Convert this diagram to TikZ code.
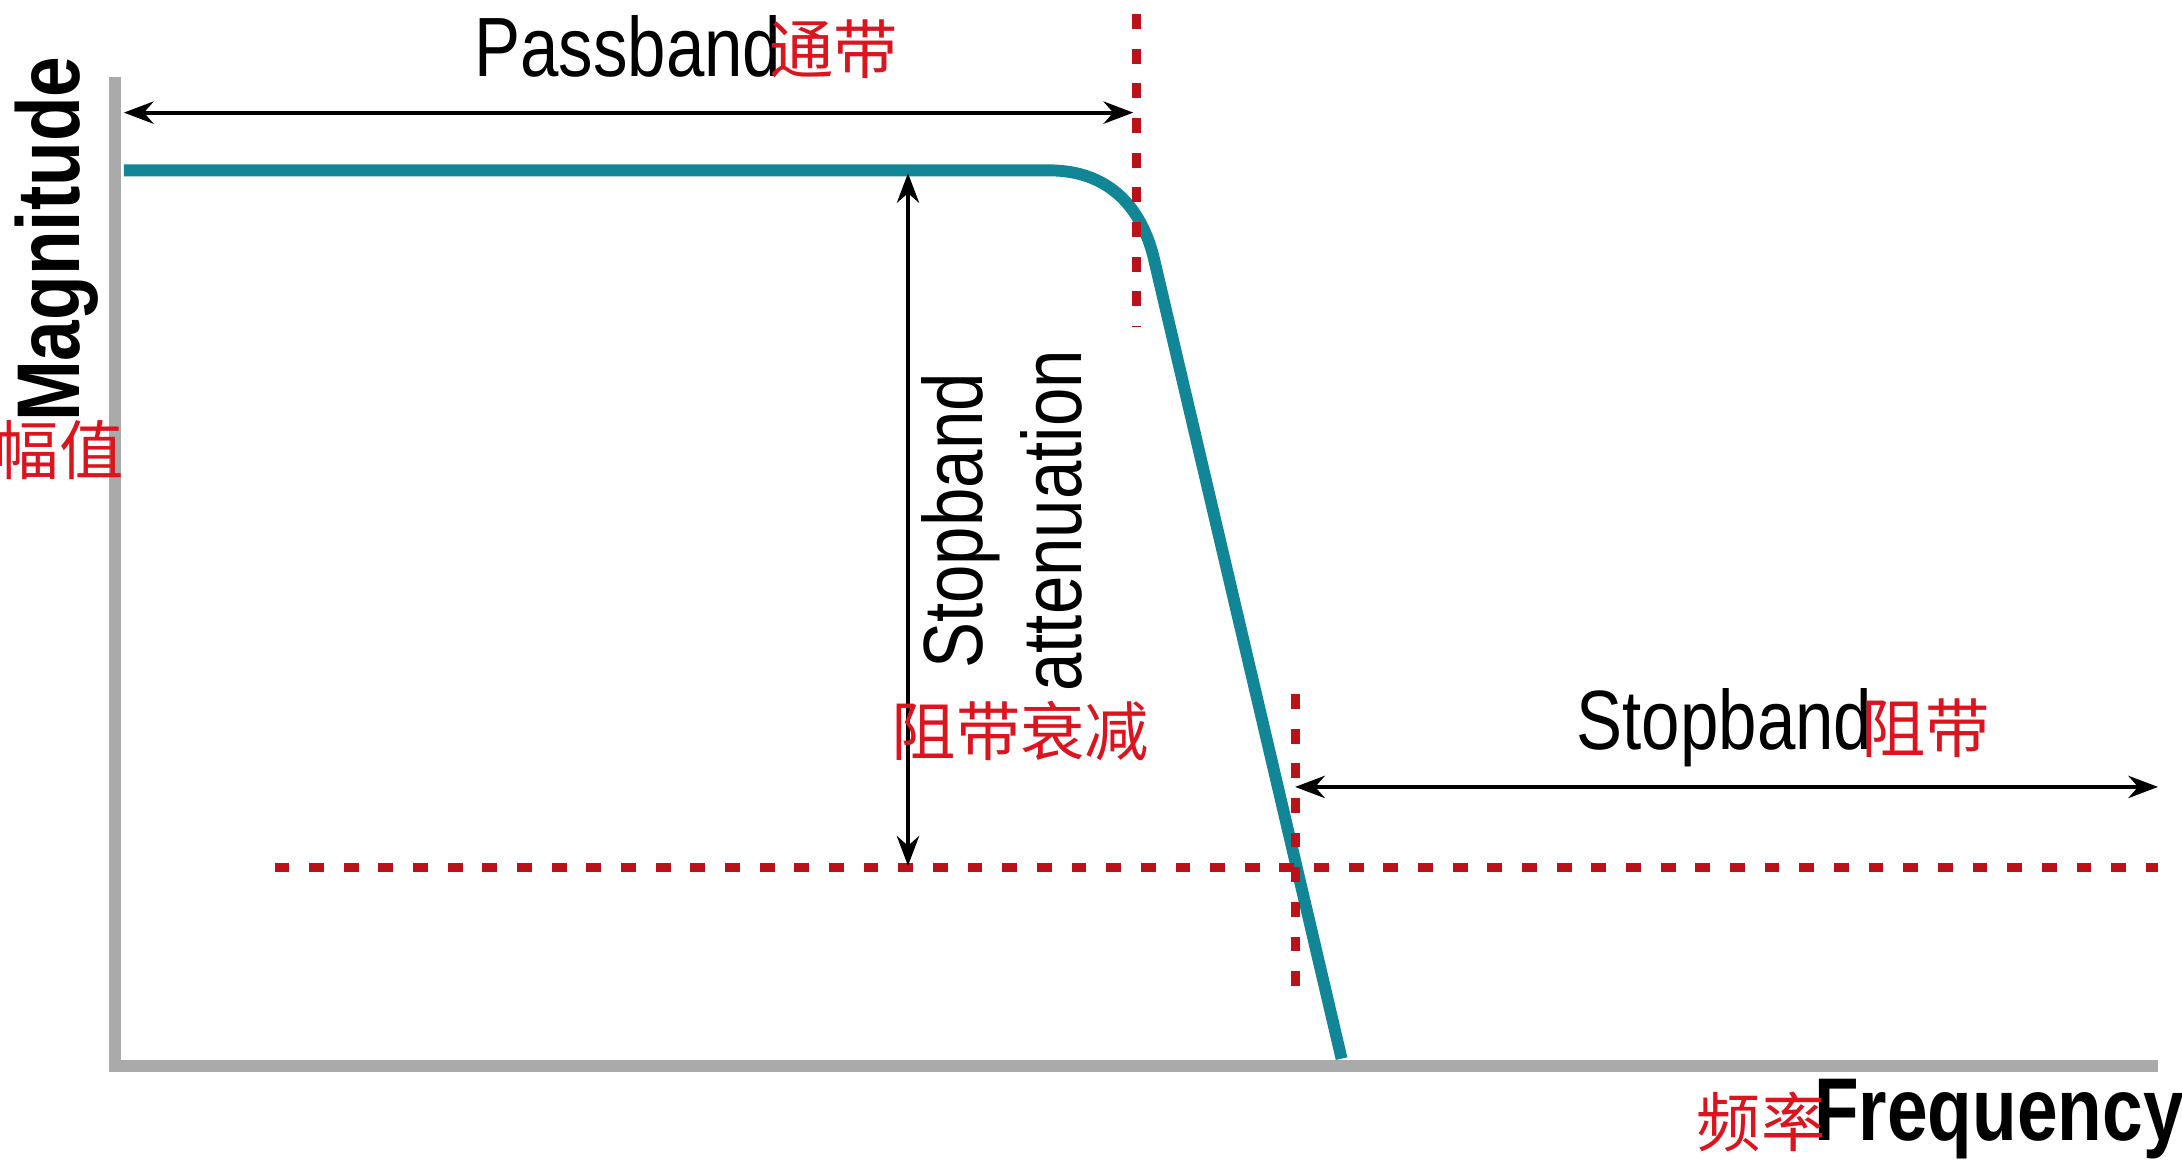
\documentclass[tikz,border=0pt]{standalone}
\usepackage{fontspec}
\setmainfont{Liberation Sans}[FakeStretch=0.82]
\newfontfamily\cjk{Noto Sans CJK SC}
\usetikzlibrary{arrows.meta}
\definecolor{teal1}{RGB}{16,134,150}
\definecolor{red1}{RGB}{220,20,30}
\definecolor{axisgray}{RGB}{170,170,170}
\tikzset{
  dim/.style={thick,{Stealth[length=6pt]}-{Stealth[length=6pt]}},
  cutoff/.style={red1!85!black,line width=1.8pt,dash pattern=on 3pt off 4pt},
  lbl/.style={font=\fontsize{17}{20}\selectfont},
  zh/.style={text=red1,font=\cjk\fontsize{13}{15}\selectfont},
}
\begin{document}
\begin{tikzpicture}[x=0.01cm,y=-0.01cm]
  \useasboundingbox (0,0) rectangle (1550,827);
  % axes
  \draw[axisgray,line width=2.4pt] (82,55) -- (82,757) -- (1533,757);
  % response
  \draw[teal1,line width=2.4pt] (88,121) -- (745,121)
        .. controls (790,121) and (812,150) .. (820,185) -- (953,752);
  % markers
  \draw[cutoff] (807,10) -- (807,232);
  \draw[cutoff] (920,493) -- (920,708);
  \draw[cutoff] (195,616) -- (1533,616);
  % dimensions
  \coordinate (pbL) at (88,80);  \coordinate (pbR) at (805,80);
  \coordinate (sbL) at (920,559); \coordinate (sbR) at (1533,559);
  \coordinate (atT) at (645,123); \coordinate (atB) at (645,615);
  \draw[dim] (pbL) -- (pbR);
  \draw[dim] (sbL) -- (sbR);
  \draw[dim] (atT) -- (atB);
  % labels
  \node[lbl] (pass)   at (446,33)  {Passband};
  \node[zh]  (passzh) at (592,35)  {通带};
  \node[lbl] (stop)   at (1225,517) {Stopband};
  \node[zh]  (stopzh) at (1368,517) {阻带};
  \node[lbl,rotate=90,align=center] (att) at (712,370) {Stopband\\attenuation};
  \node[zh]  (attzh)  at (725,519) {阻带衰减};
  \node[lbl,font=\bfseries\fontsize{18}{20}\selectfont,rotate=90] (mag) at (40,170) {Magnitude};
  \node[zh]  (magzh)  at (42,320)  {幅值};
  \node[lbl,font=\bfseries\fontsize{18}{20}\selectfont] (freq) at (1420,795) {Frequency};
  \node[zh]  (freqzh) at (1251,797) {频率};
\end{tikzpicture}
\end{document}
